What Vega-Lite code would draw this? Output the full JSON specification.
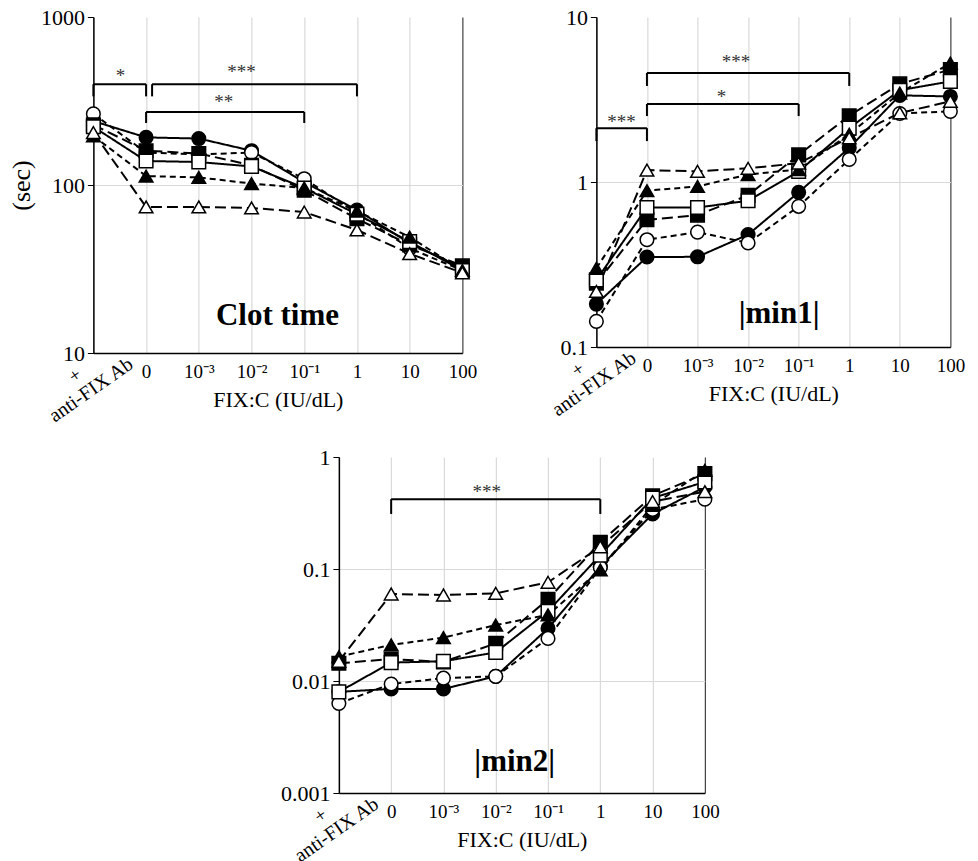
{
  "$schema": "https://vega.github.io/schema/vega-lite/v6.json",
  "background": "white",
  "padding": {"left": 8, "top": 6, "right": 5, "bottom": 0},
  "config": {
    "view": {"stroke": null},
    "font": "Liberation Serif",
    "axis": {"labelFont": "Liberation Serif", "titleFont": "Liberation Serif", "titleFontSize": 22, "titleFontWeight": "normal", "labelColor": "black", "titleColor": "black", "domainColor": "black", "domainWidth": 1.5, "tickColor": "black", "gridColor": "#d9d9d9", "gridWidth": 1.2},
    "axisX": {"ticks": false, "labelAngle": 0, "labelFontSize": 19, "labelPadding": 9, "titlePadding": 8, "grid": true},
    "axisY": {"tickSize": 6, "labelFontSize": 22, "labelPadding": 3, "grid": true, "titleFontSize": 26}
  },
  "datasets": {
    "clot": [
      {"series": "S1", "conc": "anti-FIX Ab", "value": 240}, {"series": "S1", "conc": "0", "value": 192}, {"series": "S1", "conc": "10\u207b\u00b3", "value": 189}, {"series": "S1", "conc": "10\u207b\u00b2", "value": 160}, {"series": "S1", "conc": "10\u207b\u00b9", "value": 104}, {"series": "S1", "conc": "1", "value": 71}, {"series": "S1", "conc": "10", "value": 45}, {"series": "S1", "conc": "100", "value": 32},
      {"series": "S2", "conc": "anti-FIX Ab", "value": 265}, {"series": "S2", "conc": "0", "value": 156}, {"series": "S2", "conc": "10\u207b\u00b3", "value": 152}, {"series": "S2", "conc": "10\u207b\u00b2", "value": 156}, {"series": "S2", "conc": "10\u207b\u00b9", "value": 109}, {"series": "S2", "conc": "1", "value": 68}, {"series": "S2", "conc": "10", "value": 42}, {"series": "S2", "conc": "100", "value": 31},
      {"series": "S3", "conc": "anti-FIX Ab", "value": 228}, {"series": "S3", "conc": "0", "value": 160}, {"series": "S3", "conc": "10\u207b\u00b3", "value": 154}, {"series": "S3", "conc": "10\u207b\u00b2", "value": 131}, {"series": "S3", "conc": "10\u207b\u00b9", "value": 93}, {"series": "S3", "conc": "1", "value": 63}, {"series": "S3", "conc": "10", "value": 44}, {"series": "S3", "conc": "100", "value": 33},
      {"series": "S4", "conc": "anti-FIX Ab", "value": 222}, {"series": "S4", "conc": "0", "value": 139}, {"series": "S4", "conc": "10\u207b\u00b3", "value": 137}, {"series": "S4", "conc": "10\u207b\u00b2", "value": 129}, {"series": "S4", "conc": "10\u207b\u00b9", "value": 96}, {"series": "S4", "conc": "1", "value": 67}, {"series": "S4", "conc": "10", "value": 46}, {"series": "S4", "conc": "100", "value": 31},
      {"series": "S5", "conc": "anti-FIX Ab", "value": 196}, {"series": "S5", "conc": "0", "value": 113}, {"series": "S5", "conc": "10\u207b\u00b3", "value": 111}, {"series": "S5", "conc": "10\u207b\u00b2", "value": 102}, {"series": "S5", "conc": "10\u207b\u00b9", "value": 96}, {"series": "S5", "conc": "1", "value": 70}, {"series": "S5", "conc": "10", "value": 49}, {"series": "S5", "conc": "100", "value": 31},
      {"series": "S6", "conc": "anti-FIX Ab", "value": 205}, {"series": "S6", "conc": "0", "value": 74}, {"series": "S6", "conc": "10\u207b\u00b3", "value": 74}, {"series": "S6", "conc": "10\u207b\u00b2", "value": 73}, {"series": "S6", "conc": "10\u207b\u00b9", "value": 69}, {"series": "S6", "conc": "1", "value": 54}, {"series": "S6", "conc": "10", "value": 39}, {"series": "S6", "conc": "100", "value": 30}
    ],
    "min1": [
      {"series": "S1", "conc": "anti-FIX Ab", "value": 0.182}, {"series": "S1", "conc": "0", "value": 0.351}, {"series": "S1", "conc": "10\u207b\u00b3", "value": 0.352}, {"series": "S1", "conc": "10\u207b\u00b2", "value": 0.48}, {"series": "S1", "conc": "10\u207b\u00b9", "value": 0.866}, {"series": "S1", "conc": "1", "value": 1.61}, {"series": "S1", "conc": "10", "value": 3.35}, {"series": "S1", "conc": "100", "value": 3.3},
      {"series": "S2", "conc": "anti-FIX Ab", "value": 0.143}, {"series": "S2", "conc": "0", "value": 0.447}, {"series": "S2", "conc": "10\u207b\u00b3", "value": 0.497}, {"series": "S2", "conc": "10\u207b\u00b2", "value": 0.427}, {"series": "S2", "conc": "10\u207b\u00b9", "value": 0.712}, {"series": "S2", "conc": "1", "value": 1.37}, {"series": "S2", "conc": "10", "value": 2.6}, {"series": "S2", "conc": "100", "value": 2.68},
      {"series": "S3", "conc": "anti-FIX Ab", "value": 0.244}, {"series": "S3", "conc": "0", "value": 0.59}, {"series": "S3", "conc": "10\u207b\u00b3", "value": 0.63}, {"series": "S3", "conc": "10\u207b\u00b2", "value": 0.83}, {"series": "S3", "conc": "10\u207b\u00b9", "value": 1.46}, {"series": "S3", "conc": "1", "value": 2.52}, {"series": "S3", "conc": "10", "value": 3.93}, {"series": "S3", "conc": "100", "value": 4.8},
      {"series": "S4", "conc": "anti-FIX Ab", "value": 0.255}, {"series": "S4", "conc": "0", "value": 0.7}, {"series": "S4", "conc": "10\u207b\u00b3", "value": 0.7}, {"series": "S4", "conc": "10\u207b\u00b2", "value": 0.77}, {"series": "S4", "conc": "10\u207b\u00b9", "value": 1.16}, {"series": "S4", "conc": "1", "value": 2.12}, {"series": "S4", "conc": "10", "value": 3.6}, {"series": "S4", "conc": "100", "value": 4.07},
      {"series": "S5", "conc": "anti-FIX Ab", "value": 0.3}, {"series": "S5", "conc": "0", "value": 0.886}, {"series": "S5", "conc": "10\u207b\u00b3", "value": 0.94}, {"series": "S5", "conc": "10\u207b\u00b2", "value": 1.11}, {"series": "S5", "conc": "10\u207b\u00b9", "value": 1.19}, {"series": "S5", "conc": "1", "value": 1.95}, {"series": "S5", "conc": "10", "value": 3.46}, {"series": "S5", "conc": "100", "value": 5.26},
      {"series": "S6", "conc": "anti-FIX Ab", "value": 0.217}, {"series": "S6", "conc": "0", "value": 1.18}, {"series": "S6", "conc": "10\u207b\u00b3", "value": 1.16}, {"series": "S6", "conc": "10\u207b\u00b2", "value": 1.21}, {"series": "S6", "conc": "10\u207b\u00b9", "value": 1.3}, {"series": "S6", "conc": "1", "value": 1.85}, {"series": "S6", "conc": "10", "value": 2.62}, {"series": "S6", "conc": "100", "value": 3.08}
    ],
    "min2": [
      {"series": "S1", "conc": "anti-FIX Ab", "value": 0.008}, {"series": "S1", "conc": "0", "value": 0.0085}, {"series": "S1", "conc": "10\u207b\u00b3", "value": 0.0085}, {"series": "S1", "conc": "10\u207b\u00b2", "value": 0.011}, {"series": "S1", "conc": "10\u207b\u00b9", "value": 0.0295}, {"series": "S1", "conc": "1", "value": 0.105}, {"series": "S1", "conc": "10", "value": 0.31}, {"series": "S1", "conc": "100", "value": 0.54},
      {"series": "S2", "conc": "anti-FIX Ab", "value": 0.0063}, {"series": "S2", "conc": "0", "value": 0.0094}, {"series": "S2", "conc": "10\u207b\u00b3", "value": 0.0106}, {"series": "S2", "conc": "10\u207b\u00b2", "value": 0.011}, {"series": "S2", "conc": "10\u207b\u00b9", "value": 0.024}, {"series": "S2", "conc": "1", "value": 0.103}, {"series": "S2", "conc": "10", "value": 0.34}, {"series": "S2", "conc": "100", "value": 0.42},
      {"series": "S3", "conc": "anti-FIX Ab", "value": 0.0144}, {"series": "S3", "conc": "0", "value": 0.0157}, {"series": "S3", "conc": "10\u207b\u00b3", "value": 0.0148}, {"series": "S3", "conc": "10\u207b\u00b2", "value": 0.0217}, {"series": "S3", "conc": "10\u207b\u00b9", "value": 0.0536}, {"series": "S3", "conc": "1", "value": 0.173}, {"series": "S3", "conc": "10", "value": 0.45}, {"series": "S3", "conc": "100", "value": 0.71},
      {"series": "S4", "conc": "anti-FIX Ab", "value": 0.008}, {"series": "S4", "conc": "0", "value": 0.0146}, {"series": "S4", "conc": "10\u207b\u00b3", "value": 0.015}, {"series": "S4", "conc": "10\u207b\u00b2", "value": 0.018}, {"series": "S4", "conc": "10\u207b\u00b9", "value": 0.042}, {"series": "S4", "conc": "1", "value": 0.133}, {"series": "S4", "conc": "10", "value": 0.43}, {"series": "S4", "conc": "100", "value": 0.6},
      {"series": "S5", "conc": "anti-FIX Ab", "value": 0.0165}, {"series": "S5", "conc": "0", "value": 0.021}, {"series": "S5", "conc": "10\u207b\u00b3", "value": 0.0244}, {"series": "S5", "conc": "10\u207b\u00b2", "value": 0.0316}, {"series": "S5", "conc": "10\u207b\u00b9", "value": 0.039}, {"series": "S5", "conc": "1", "value": 0.098}, {"series": "S5", "conc": "10", "value": 0.37}, {"series": "S5", "conc": "100", "value": 0.76},
      {"series": "S6", "conc": "anti-FIX Ab", "value": 0.015}, {"series": "S6", "conc": "0", "value": 0.0598}, {"series": "S6", "conc": "10\u207b\u00b3", "value": 0.0586}, {"series": "S6", "conc": "10\u207b\u00b2", "value": 0.0606}, {"series": "S6", "conc": "10\u207b\u00b9", "value": 0.076}, {"series": "S6", "conc": "1", "value": 0.158}, {"series": "S6", "conc": "10", "value": 0.4}, {"series": "S6", "conc": "100", "value": 0.49}
    ],
    "clot_br": [
      {"from": "anti-FIX Ab", "to": "0", "top": 398, "bottom": 398},
      {"from": "anti-FIX Ab", "to": "anti-FIX Ab", "top": 398, "bottom": 337},
      {"from": "0", "to": "0", "top": 398, "bottom": 337},
      {"from": "0", "to": "10\u207b\u00b9", "top": 272, "bottom": 272},
      {"from": "0", "to": "0", "top": 272, "bottom": 234},
      {"from": "10\u207b\u00b9", "to": "10\u207b\u00b9", "top": 272, "bottom": 234},
      {"from": "1", "to": "1", "top": 398, "bottom": 337}
    ],
    "min1_br": [
      {"from": "anti-FIX Ab", "to": "0", "top": 2.12, "bottom": 2.12},
      {"from": "anti-FIX Ab", "to": "anti-FIX Ab", "top": 2.12, "bottom": 1.77},
      {"from": "0", "to": "0", "top": 2.12, "bottom": 1.77},
      {"from": "0", "to": "1", "top": 4.58, "bottom": 4.58},
      {"from": "0", "to": "0", "top": 4.58, "bottom": 3.82},
      {"from": "1", "to": "1", "top": 4.58, "bottom": 3.82},
      {"from": "0", "to": "10\u207b\u00b9", "top": 2.97, "bottom": 2.97},
      {"from": "0", "to": "0", "top": 2.97, "bottom": 2.51},
      {"from": "10\u207b\u00b9", "to": "10\u207b\u00b9", "top": 2.97, "bottom": 2.51}
    ],
    "min2_br": [
      {"from": "0", "to": "1", "top": 0.42, "bottom": 0.42},
      {"from": "0", "to": "0", "top": 0.42, "bottom": 0.31},
      {"from": "1", "to": "1", "top": 0.42, "bottom": 0.31}
    ]
  },
  "spacing": 19,
  "center": true,
  "vconcat": [
    {
      "spacing": 70,
      "hconcat": [
        {
          "width": 369,
          "height": 336,
          "layer": [
            {
              "data": {"name": "clot"},
              "mark": {"type": "line", "color": "black", "strokeWidth": 2},
              "encoding": {
                "x": {"field": "conc", "type": "nominal", "sort": ["anti-FIX Ab", "0", "10\u207b\u00b3", "10\u207b\u00b2", "10\u207b\u00b9", "1", "10", "100"], "scale": {"type": "point", "domain": ["anti-FIX Ab", "0", "10\u207b\u00b3", "10\u207b\u00b2", "10\u207b\u00b9", "1", "10", "100"], "padding": 0}, "title": "FIX:C (IU/dL)", "axis": {"labelExpr": "datum.value == 'anti-FIX Ab' ? '' : datum.label", "gridColor": {"condition": {"test": "datum.value == '100'", "value": "#404040"}, "value": "#d9d9d9"}}},
                "y": {"field": "value", "type": "quantitative", "scale": {"type": "log", "domain": [10, 1000], "nice": false}, "title": "(sec)", "axis": {"values": [10, 100, 1000], "format": "~r", "titlePadding": 6, "gridOpacity": {"condition": {"test": "datum.value >= 999", "value": 0}, "value": 1}}},
                "strokeDash": {"field": "series", "type": "nominal", "scale": {"domain": ["S1", "S2", "S3", "S4", "S5", "S6"], "range": [[1, 0], [6, 4], [11, 5], [1, 0], [6, 4], [11, 5]]}, "legend": null}
              }
            },
            {
              "data": {"name": "clot"},
              "mark": {"type": "point", "filled": true, "size": 185, "stroke": "black", "strokeWidth": 1.5, "opacity": 1},
              "encoding": {
                "x": {"field": "conc", "type": "nominal", "scale": {"type": "point", "domain": ["anti-FIX Ab", "0", "10\u207b\u00b3", "10\u207b\u00b2", "10\u207b\u00b9", "1", "10", "100"], "padding": 0}, "title": "FIX:C (IU/dL)"},
                "y": {"field": "value", "type": "quantitative", "scale": {"type": "log", "domain": [10, 1000], "nice": false}, "title": "(sec)"},
                "shape": {"field": "series", "type": "nominal", "scale": {"domain": ["S1", "S2", "S3", "S4", "S5", "S6"], "range": ["circle", "circle", "square", "square", "triangle-up", "triangle-up"]}, "legend": null},
                "fill": {"field": "series", "type": "nominal", "scale": {"domain": ["S1", "S2", "S3", "S4", "S5", "S6"], "range": ["black", "white", "black", "white", "black", "white"]}, "legend": null}
              }
            },
            {
              "data": {"name": "clot_br"},
              "mark": {"type": "rule", "color": "black", "strokeWidth": 2},
              "encoding": {
                "x": {"field": "from", "type": "nominal", "scale": {"type": "point", "domain": ["anti-FIX Ab", "0", "10\u207b\u00b3", "10\u207b\u00b2", "10\u207b\u00b9", "1", "10", "100"], "padding": 0}, "title": "FIX:C (IU/dL)"},
                "x2": {"field": "to"},
                "y": {"field": "top", "type": "quantitative", "scale": {"type": "log", "domain": [10, 1000], "nice": false}, "title": "(sec)"},
                "y2": {"field": "bottom"}
              }
            },
            {
              "data": {"values": [{}]},
              "mark": {"type": "rule", "color": "black", "strokeWidth": 2, "xOffset": 6},
              "encoding": {
                "x": {"datum": "0", "type": "nominal", "scale": {"type": "point", "domain": ["anti-FIX Ab", "0", "10\u207b\u00b3", "10\u207b\u00b2", "10\u207b\u00b9", "1", "10", "100"], "padding": 0}, "title": "FIX:C (IU/dL)"},
                "x2": {"datum": "1"},
                "y": {"datum": 398, "type": "quantitative", "scale": {"type": "log", "domain": [10, 1000], "nice": false}, "title": "(sec)"}
              }
            },
            {
              "data": {"values": [{}]},
              "mark": {"type": "rule", "color": "black", "strokeWidth": 2, "xOffset": 6, "x2Offset": 6},
              "encoding": {
                "x": {"datum": "0", "type": "nominal", "scale": {"type": "point", "domain": ["anti-FIX Ab", "0", "10\u207b\u00b3", "10\u207b\u00b2", "10\u207b\u00b9", "1", "10", "100"], "padding": 0}, "title": "FIX:C (IU/dL)"},
                "x2": {"datum": "0"},
                "y": {"datum": 398, "type": "quantitative", "scale": {"type": "log", "domain": [10, 1000], "nice": false}, "title": "(sec)"},
                "y2": {"datum": 337}
              }
            },
            {
              "data": {"values": [{}]},
              "mark": {"type": "text", "text": "*", "font": "Liberation Serif", "fontSize": 19, "color": "#333333", "dx": 27, "dy": 3},
              "encoding": {
                "x": {"datum": "anti-FIX Ab", "type": "nominal", "scale": {"type": "point", "domain": ["anti-FIX Ab", "0", "10\u207b\u00b3", "10\u207b\u00b2", "10\u207b\u00b9", "1", "10", "100"], "padding": 0}, "title": "FIX:C (IU/dL)"},
                "y": {"datum": 464, "type": "quantitative", "scale": {"type": "log", "domain": [10, 1000], "nice": false}, "title": "(sec)"}
              }
            },
            {
              "data": {"values": [{}]},
              "mark": {"type": "text", "text": "***", "font": "Liberation Serif", "fontSize": 19, "color": "#333333", "dx": -10, "dy": 3},
              "encoding": {
                "x": {"datum": "10\u207b\u00b2", "type": "nominal", "scale": {"type": "point", "domain": ["anti-FIX Ab", "0", "10\u207b\u00b3", "10\u207b\u00b2", "10\u207b\u00b9", "1", "10", "100"], "padding": 0}, "title": "FIX:C (IU/dL)"},
                "y": {"datum": 490, "type": "quantitative", "scale": {"type": "log", "domain": [10, 1000], "nice": false}, "title": "(sec)"}
              }
            },
            {
              "data": {"values": [{}]},
              "mark": {"type": "text", "text": "**", "font": "Liberation Serif", "fontSize": 19, "color": "#333333", "dx": 25, "dy": 3},
              "encoding": {
                "x": {"datum": "10\u207b\u00b3", "type": "nominal", "scale": {"type": "point", "domain": ["anti-FIX Ab", "0", "10\u207b\u00b3", "10\u207b\u00b2", "10\u207b\u00b9", "1", "10", "100"], "padding": 0}, "title": "FIX:C (IU/dL)"},
                "y": {"datum": 325, "type": "quantitative", "scale": {"type": "log", "domain": [10, 1000], "nice": false}, "title": "(sec)"}
              }
            },
            {
              "data": {"values": [{}]},
              "mark": {"type": "text", "text": "Clot time", "font": "Liberation Serif", "fontSize": 31, "fontWeight": "bold", "color": "black", "dx": 26, "baseline": "middle"},
              "encoding": {
                "x": {"datum": "10\u207b\u00b2", "type": "nominal", "scale": {"type": "point", "domain": ["anti-FIX Ab", "0", "10\u207b\u00b3", "10\u207b\u00b2", "10\u207b\u00b9", "1", "10", "100"], "padding": 0}, "title": "FIX:C (IU/dL)"},
                "y": {"datum": 16.6, "type": "quantitative", "scale": {"type": "log", "domain": [10, 1000], "nice": false}, "title": "(sec)"}
              }
            },
            {
              "data": {"values": [{}]},
              "mark": {"type": "text", "text": "anti-FIX Ab", "font": "Liberation Serif", "fontSize": 20, "color": "black", "angle": -35, "align": "center", "baseline": "alphabetic", "dx": -23, "dy": 35},
              "encoding": {
                "x": {"datum": "anti-FIX Ab", "type": "nominal", "scale": {"type": "point", "domain": ["anti-FIX Ab", "0", "10\u207b\u00b3", "10\u207b\u00b2", "10\u207b\u00b9", "1", "10", "100"], "padding": 0}, "title": "FIX:C (IU/dL)"},
                "y": {"datum": 10, "type": "quantitative", "scale": {"type": "log", "domain": [10, 1000], "nice": false}, "title": "(sec)"}
              }
            },
            {
              "data": {"values": [{}]},
              "mark": {"type": "text", "text": "+", "font": "Liberation Serif", "fontSize": 19, "color": "black", "angle": -35, "align": "center", "baseline": "alphabetic", "dx": -28, "dy": 14},
              "encoding": {
                "x": {"datum": "anti-FIX Ab", "type": "nominal", "scale": {"type": "point", "domain": ["anti-FIX Ab", "0", "10\u207b\u00b3", "10\u207b\u00b2", "10\u207b\u00b9", "1", "10", "100"], "padding": 0}, "title": "FIX:C (IU/dL)"},
                "y": {"datum": 10, "type": "quantitative", "scale": {"type": "log", "domain": [10, 1000], "nice": false}, "title": "(sec)"}
              }
            }
          ]
        },
        {
          "width": 354,
          "height": 330,
          "layer": [
            {
              "data": {"name": "min1"},
              "mark": {"type": "line", "color": "black", "strokeWidth": 2},
              "encoding": {
                "x": {"field": "conc", "type": "nominal", "sort": ["anti-FIX Ab", "0", "10\u207b\u00b3", "10\u207b\u00b2", "10\u207b\u00b9", "1", "10", "100"], "scale": {"type": "point", "domain": ["anti-FIX Ab", "0", "10\u207b\u00b3", "10\u207b\u00b2", "10\u207b\u00b9", "1", "10", "100"], "padding": 0}, "title": "FIX:C (IU/dL)", "axis": {"labelExpr": "datum.value == 'anti-FIX Ab' ? '' : datum.label", "gridColor": {"condition": {"test": "datum.value == '100'", "value": "#404040"}, "value": "#d9d9d9"}}},
                "y": {"field": "value", "type": "quantitative", "scale": {"type": "log", "domain": [0.1, 10], "nice": false}, "title": null, "axis": {"values": [0.1, 1, 10], "format": "~r", "gridOpacity": {"condition": {"test": "datum.value >= 9.9", "value": 0}, "value": 1}}},
                "strokeDash": {"field": "series", "type": "nominal", "scale": {"domain": ["S1", "S2", "S3", "S4", "S5", "S6"], "range": [[1, 0], [6, 4], [11, 5], [1, 0], [6, 4], [11, 5]]}, "legend": null}
              }
            },
            {
              "data": {"name": "min1"},
              "mark": {"type": "point", "filled": true, "size": 185, "stroke": "black", "strokeWidth": 1.5, "opacity": 1},
              "encoding": {
                "x": {"field": "conc", "type": "nominal", "scale": {"type": "point", "domain": ["anti-FIX Ab", "0", "10\u207b\u00b3", "10\u207b\u00b2", "10\u207b\u00b9", "1", "10", "100"], "padding": 0}, "title": "FIX:C (IU/dL)"},
                "y": {"field": "value", "type": "quantitative", "scale": {"type": "log", "domain": [0.1, 10], "nice": false}, "title": null},
                "shape": {"field": "series", "type": "nominal", "scale": {"domain": ["S1", "S2", "S3", "S4", "S5", "S6"], "range": ["circle", "circle", "square", "square", "triangle-up", "triangle-up"]}, "legend": null},
                "fill": {"field": "series", "type": "nominal", "scale": {"domain": ["S1", "S2", "S3", "S4", "S5", "S6"], "range": ["black", "white", "black", "white", "black", "white"]}, "legend": null}
              }
            },
            {
              "data": {"name": "min1_br"},
              "mark": {"type": "rule", "color": "black", "strokeWidth": 2},
              "encoding": {
                "x": {"field": "from", "type": "nominal", "scale": {"type": "point", "domain": ["anti-FIX Ab", "0", "10\u207b\u00b3", "10\u207b\u00b2", "10\u207b\u00b9", "1", "10", "100"], "padding": 0}, "title": "FIX:C (IU/dL)"},
                "x2": {"field": "to"},
                "y": {"field": "top", "type": "quantitative", "scale": {"type": "log", "domain": [0.1, 10], "nice": false}, "title": null},
                "y2": {"field": "bottom"}
              }
            },
            {
              "data": {"values": [{}]},
              "mark": {"type": "text", "text": "***", "font": "Liberation Serif", "fontSize": 19, "color": "#333333", "dx": 25, "dy": 3},
              "encoding": {
                "x": {"datum": "anti-FIX Ab", "type": "nominal", "scale": {"type": "point", "domain": ["anti-FIX Ab", "0", "10\u207b\u00b3", "10\u207b\u00b2", "10\u207b\u00b9", "1", "10", "100"], "padding": 0}, "title": "FIX:C (IU/dL)"},
                "y": {"datum": 2.4, "type": "quantitative", "scale": {"type": "log", "domain": [0.1, 10], "nice": false}, "title": null}
              }
            },
            {
              "data": {"values": [{}]},
              "mark": {"type": "text", "text": "***", "font": "Liberation Serif", "fontSize": 19, "color": "#333333", "dx": -12, "dy": 3},
              "encoding": {
                "x": {"datum": "10\u207b\u00b2", "type": "nominal", "scale": {"type": "point", "domain": ["anti-FIX Ab", "0", "10\u207b\u00b3", "10\u207b\u00b2", "10\u207b\u00b9", "1", "10", "100"], "padding": 0}, "title": "FIX:C (IU/dL)"},
                "y": {"datum": 5.56, "type": "quantitative", "scale": {"type": "log", "domain": [0.1, 10], "nice": false}, "title": null}
              }
            },
            {
              "data": {"values": [{}]},
              "mark": {"type": "text", "text": "*", "font": "Liberation Serif", "fontSize": 19, "color": "#333333", "dx": 24, "dy": 3},
              "encoding": {
                "x": {"datum": "10\u207b\u00b3", "type": "nominal", "scale": {"type": "point", "domain": ["anti-FIX Ab", "0", "10\u207b\u00b3", "10\u207b\u00b2", "10\u207b\u00b9", "1", "10", "100"], "padding": 0}, "title": "FIX:C (IU/dL)"},
                "y": {"datum": 3.42, "type": "quantitative", "scale": {"type": "log", "domain": [0.1, 10], "nice": false}, "title": null}
              }
            },
            {
              "data": {"values": [{}]},
              "mark": {"type": "text", "text": "|min1|", "font": "Liberation Serif", "fontSize": 31, "fontWeight": "bold", "color": "black", "dx": 31, "baseline": "middle"},
              "encoding": {
                "x": {"datum": "10\u207b\u00b2", "type": "nominal", "scale": {"type": "point", "domain": ["anti-FIX Ab", "0", "10\u207b\u00b3", "10\u207b\u00b2", "10\u207b\u00b9", "1", "10", "100"], "padding": 0}, "title": "FIX:C (IU/dL)"},
                "y": {"datum": 0.158, "type": "quantitative", "scale": {"type": "log", "domain": [0.1, 10], "nice": false}, "title": null}
              }
            },
            {
              "data": {"values": [{}]},
              "mark": {"type": "text", "text": "anti-FIX Ab", "font": "Liberation Serif", "fontSize": 20, "color": "black", "angle": -35, "align": "center", "baseline": "alphabetic", "dx": -23, "dy": 35},
              "encoding": {
                "x": {"datum": "anti-FIX Ab", "type": "nominal", "scale": {"type": "point", "domain": ["anti-FIX Ab", "0", "10\u207b\u00b3", "10\u207b\u00b2", "10\u207b\u00b9", "1", "10", "100"], "padding": 0}, "title": "FIX:C (IU/dL)"},
                "y": {"datum": 0.1, "type": "quantitative", "scale": {"type": "log", "domain": [0.1, 10], "nice": false}, "title": null}
              }
            },
            {
              "data": {"values": [{}]},
              "mark": {"type": "text", "text": "+", "font": "Liberation Serif", "fontSize": 19, "color": "black", "angle": -35, "align": "center", "baseline": "alphabetic", "dx": -28, "dy": 14},
              "encoding": {
                "x": {"datum": "anti-FIX Ab", "type": "nominal", "scale": {"type": "point", "domain": ["anti-FIX Ab", "0", "10\u207b\u00b3", "10\u207b\u00b2", "10\u207b\u00b9", "1", "10", "100"], "padding": 0}, "title": "FIX:C (IU/dL)"},
                "y": {"datum": 0.1, "type": "quantitative", "scale": {"type": "log", "domain": [0.1, 10], "nice": false}, "title": null}
              }
            }
          ]
        }
      ]
    },
    {
      "width": 366,
      "height": 336,
      "layer": [
        {
          "data": {"name": "min2"},
          "mark": {"type": "line", "color": "black", "strokeWidth": 2},
          "encoding": {
            "x": {"field": "conc", "type": "nominal", "sort": ["anti-FIX Ab", "0", "10\u207b\u00b3", "10\u207b\u00b2", "10\u207b\u00b9", "1", "10", "100"], "scale": {"type": "point", "domain": ["anti-FIX Ab", "0", "10\u207b\u00b3", "10\u207b\u00b2", "10\u207b\u00b9", "1", "10", "100"], "padding": 0}, "title": "FIX:C (IU/dL)", "axis": {"labelExpr": "datum.value == 'anti-FIX Ab' ? '' : datum.label", "gridColor": {"condition": {"test": "datum.value == '100'", "value": "#404040"}, "value": "#d9d9d9"}}},
            "y": {"field": "value", "type": "quantitative", "scale": {"type": "log", "domain": [0.001, 1], "nice": false}, "title": null, "axis": {"values": [0.001, 0.01, 0.1, 1], "format": "~r", "gridOpacity": {"condition": {"test": "datum.value >= 0.99", "value": 0}, "value": 1}}},
            "strokeDash": {"field": "series", "type": "nominal", "scale": {"domain": ["S1", "S2", "S3", "S4", "S5", "S6"], "range": [[1, 0], [6, 4], [11, 5], [1, 0], [6, 4], [11, 5]]}, "legend": null}
          }
        },
        {
          "data": {"name": "min2"},
          "mark": {"type": "point", "filled": true, "size": 185, "stroke": "black", "strokeWidth": 1.5, "opacity": 1},
          "encoding": {
            "x": {"field": "conc", "type": "nominal", "scale": {"type": "point", "domain": ["anti-FIX Ab", "0", "10\u207b\u00b3", "10\u207b\u00b2", "10\u207b\u00b9", "1", "10", "100"], "padding": 0}, "title": "FIX:C (IU/dL)"},
            "y": {"field": "value", "type": "quantitative", "scale": {"type": "log", "domain": [0.001, 1], "nice": false}, "title": null},
            "shape": {"field": "series", "type": "nominal", "scale": {"domain": ["S1", "S2", "S3", "S4", "S5", "S6"], "range": ["circle", "circle", "square", "square", "triangle-up", "triangle-up"]}, "legend": null},
            "fill": {"field": "series", "type": "nominal", "scale": {"domain": ["S1", "S2", "S3", "S4", "S5", "S6"], "range": ["black", "white", "black", "white", "black", "white"]}, "legend": null}
          }
        },
        {
          "data": {"name": "min2_br"},
          "mark": {"type": "rule", "color": "black", "strokeWidth": 2},
          "encoding": {
            "x": {"field": "from", "type": "nominal", "scale": {"type": "point", "domain": ["anti-FIX Ab", "0", "10\u207b\u00b3", "10\u207b\u00b2", "10\u207b\u00b9", "1", "10", "100"], "padding": 0}, "title": "FIX:C (IU/dL)"},
            "x2": {"field": "to"},
            "y": {"field": "top", "type": "quantitative", "scale": {"type": "log", "domain": [0.001, 1], "nice": false}, "title": null},
            "y2": {"field": "bottom"}
          }
        },
        {
          "data": {"values": [{}]},
          "mark": {"type": "text", "text": "***", "font": "Liberation Serif", "fontSize": 19, "color": "#333333", "dx": -9, "dy": 3},
          "encoding": {
            "x": {"datum": "10\u207b\u00b2", "type": "nominal", "scale": {"type": "point", "domain": ["anti-FIX Ab", "0", "10\u207b\u00b3", "10\u207b\u00b2", "10\u207b\u00b9", "1", "10", "100"], "padding": 0}, "title": "FIX:C (IU/dL)"},
            "y": {"datum": 0.52, "type": "quantitative", "scale": {"type": "log", "domain": [0.001, 1], "nice": false}, "title": null}
          }
        },
        {
          "data": {"values": [{}]},
          "mark": {"type": "text", "text": "|min2|", "font": "Liberation Serif", "fontSize": 31, "fontWeight": "bold", "color": "black", "dx": 19, "baseline": "middle"},
          "encoding": {
            "x": {"datum": "10\u207b\u00b2", "type": "nominal", "scale": {"type": "point", "domain": ["anti-FIX Ab", "0", "10\u207b\u00b3", "10\u207b\u00b2", "10\u207b\u00b9", "1", "10", "100"], "padding": 0}, "title": "FIX:C (IU/dL)"},
            "y": {"datum": 0.0019, "type": "quantitative", "scale": {"type": "log", "domain": [0.001, 1], "nice": false}, "title": null}
          }
        },
        {
          "data": {"values": [{}]},
          "mark": {"type": "text", "text": "anti-FIX Ab", "font": "Liberation Serif", "fontSize": 20, "color": "black", "angle": -35, "align": "center", "baseline": "alphabetic", "dx": -23, "dy": 35},
          "encoding": {
            "x": {"datum": "anti-FIX Ab", "type": "nominal", "scale": {"type": "point", "domain": ["anti-FIX Ab", "0", "10\u207b\u00b3", "10\u207b\u00b2", "10\u207b\u00b9", "1", "10", "100"], "padding": 0}, "title": "FIX:C (IU/dL)"},
            "y": {"datum": 0.001, "type": "quantitative", "scale": {"type": "log", "domain": [0.001, 1], "nice": false}, "title": null}
          }
        },
        {
          "data": {"values": [{}]},
          "mark": {"type": "text", "text": "+", "font": "Liberation Serif", "fontSize": 19, "color": "black", "angle": -35, "align": "center", "baseline": "alphabetic", "dx": -28, "dy": 14},
          "encoding": {
            "x": {"datum": "anti-FIX Ab", "type": "nominal", "scale": {"type": "point", "domain": ["anti-FIX Ab", "0", "10\u207b\u00b3", "10\u207b\u00b2", "10\u207b\u00b9", "1", "10", "100"], "padding": 0}, "title": "FIX:C (IU/dL)"},
            "y": {"datum": 0.001, "type": "quantitative", "scale": {"type": "log", "domain": [0.001, 1], "nice": false}, "title": null}
          }
        }
      ]
    }
  ]
}
